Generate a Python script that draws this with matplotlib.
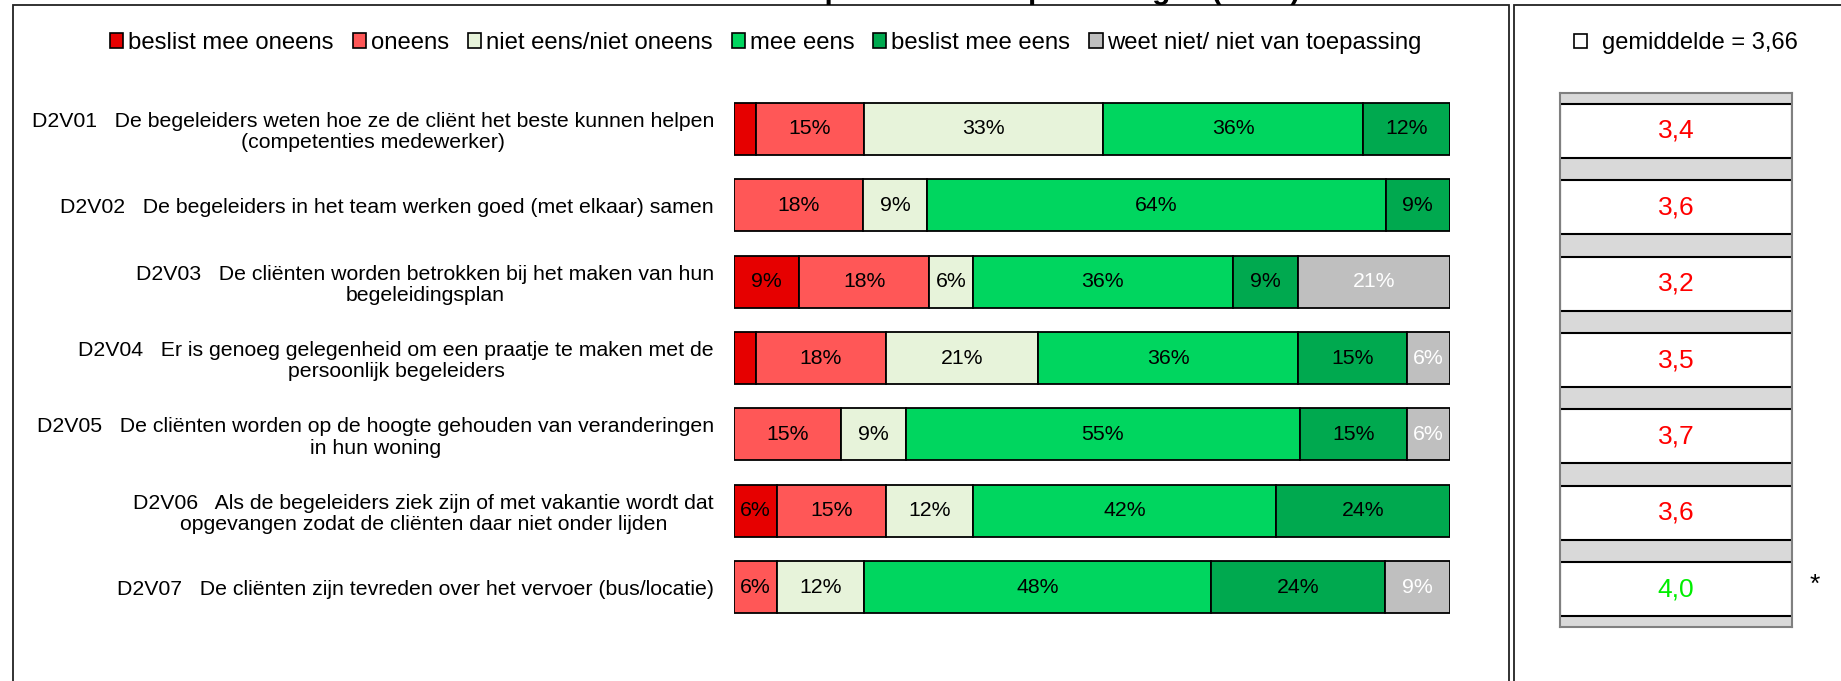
import matplotlib

matplotlib.use("Agg")
import matplotlib.pyplot as plt
from matplotlib.patches import Patch, Rectangle
import numpy as np

plt.rcParams["font.family"] = ["Liberation Sans", "DejaVu Sans"]

W, H = 1841, 681

categories = [
    "beslist mee oneens",
    "oneens",
    "niet eens/niet oneens",
    "mee eens",
    "beslist mee eens",
    "weet niet/ niet van toepassing",
]
colors = ["#E60000", "#FF5757", "#E7F3DA", "#00D65F", "#00A94F", "#BFBFBF"]
label_colors = ["black", "black", "black", "black", "black", "white"]

questions = [
    "D2V01   De begeleiders weten hoe ze de cliënt het beste kunnen helpen\n(competenties medewerker)",
    "D2V02   De begeleiders in het team werken goed (met elkaar) samen",
    "D2V03   De cliënten worden betrokken bij het maken van hun\nbegeleidingsplan",
    "D2V04   Er is genoeg gelegenheid om een praatje te maken met de\npersoonlijk begeleiders",
    "D2V05   De cliënten worden op de hoogte gehouden van veranderingen\nin hun woning",
    "D2V06   Als de begeleiders ziek zijn of met vakantie wordt dat\nopgevangen zodat de cliënten daar niet onder lijden",
    "D2V07   De cliënten zijn tevreden over het vervoer (bus/locatie)",
]

# percentages per answer category (rows = questions)
beslist_oneens = [3, 0, 9, 3, 0, 6, 0]
oneens = [15, 18, 18, 18, 15, 15, 6]
neutraal = [33, 9, 6, 21, 9, 12, 12]
eens = [36, 64, 36, 36, 55, 42, 48]
beslist_eens = [12, 9, 9, 15, 15, 24, 24]
weet_niet = [0, 0, 21, 6, 6, 0, 9]

means = [3.4, 3.6, 3.2, 3.5, 3.7, 3.6, 4.0]
mean_colors = ["#FF0000", "#FF0000", "#FF0000", "#FF0000", "#FF0000", "#FF0000", "#00EE00"]
significant = [False, False, False, False, False, False, True]
overall_mean = "3,66"
title = "Resultaten D2 Medewerkers per domein in percentages (n=33)"


def fx(px):
    return px / W


def fy(py):
    return 1 - py / H


fig = plt.figure(figsize=(W / 100, H / 100), dpi=100)

# panel frames
fig.add_artist(Rectangle((fx(13), -0.1), fx(1509) - fx(13), fy(5) + 0.1,
                         transform=fig.transFigure, fill=False, edgecolor="#222222", lw=1.3))
fig.add_artist(Rectangle((fx(1514), -0.1), 0.5, fy(5) + 0.1,
                         transform=fig.transFigure, fill=False, edgecolor="#222222", lw=1.3))

# title sits mostly above the top edge, as in the source image
fig.text(fx(1300), fy(-1), title, ha="right", va="baseline", fontsize=21.4, fontweight="bold")

# stacked bars
data = np.array([beslist_oneens, oneens, neutraal, eens, beslist_eens, weet_niet], dtype=float).T
shares = data / data.sum(axis=1, keepdims=True)
y = np.arange(len(questions))

ax = fig.add_axes([fx(734), fy(625.2), fx(1450) - fx(734), fy(90.8) - fy(625.2)])
left = np.zeros(len(questions))
for j, cat in enumerate(categories):
    ax.barh(y, shares[:, j], left=left, height=0.68, color=colors[j],
            edgecolor="black", linewidth=1.3, label=cat)
    for i in range(len(questions)):
        if data[i, j] >= 5:
            ax.text(left[i] + shares[i, j] / 2, y[i], f"{int(data[i, j])}%",
                    ha="center", va="center", fontsize=15.3, color=label_colors[j])
    left += shares[:, j]
ax.set_xlim(0, 1)
ax.set_ylim(len(questions) - 0.5, -0.5)
ax.set_xticks([])
ax.set_yticks(y)
ax.set_yticklabels(questions, fontsize=15.3, ma="center", linespacing=1.15)
ax.tick_params(axis="y", length=0, pad=14.4)
for s in ax.spines.values():
    s.set_visible(False)

handles = [Patch(facecolor=c, edgecolor="black", lw=1.2) for c in colors]
fig.legend(handles, categories, loc="center", bbox_to_anchor=(fx(766), fy(43)), ncol=6,
           frameon=False, fontsize=17.2, handlelength=0.55, handleheight=0.55,
           handletextpad=0.2, columnspacing=0.8)

# means panel
axm = fig.add_axes([fx(1560), fy(627.2), fx(1792) - fx(1560), fy(92.8) - fy(627.2)])
axm.set_facecolor("#D9D9D9")
axm.barh(y, [1] * len(means), height=0.71, color="white", edgecolor="black", linewidth=1.5)
for i, m in enumerate(means):
    axm.text(0.5, y[i], f"{m:.1f}".replace(".", ","), ha="center", va="center",
             fontsize=19, color=mean_colors[i])
    if significant[i]:
        axm.text(1.1, y[i] - 0.05, "*", ha="center", va="center", fontsize=19,
                 transform=axm.get_yaxis_transform(), clip_on=False)
axm.set_xlim(0, 1)
axm.set_ylim(len(means) - 0.5, -0.5)
axm.set_xticks([])
axm.set_yticks([])
for s in axm.spines.values():
    s.set_color("#808080")
    s.set_linewidth(1.5)

fig.legend([Patch(facecolor="white", edgecolor="black", lw=1.2)], [f"gemiddelde = {overall_mean}"],
           loc="center", bbox_to_anchor=(fx(1686), fy(43)), frameon=False, fontsize=17,
           handlelength=0.55, handleheight=0.55, handletextpad=0.6)

fig.savefig("out.png", dpi=100)
